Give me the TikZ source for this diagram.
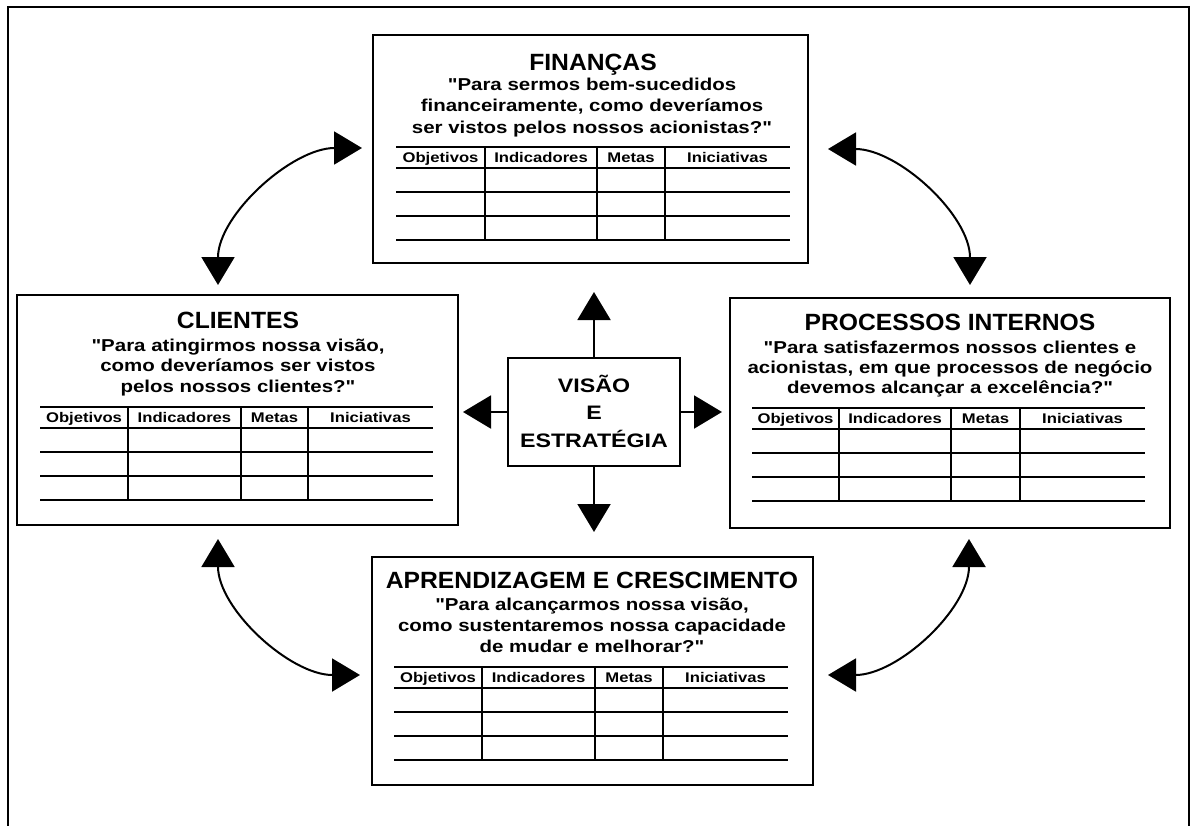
\documentclass[tikz,border=0pt]{standalone}
\usepackage{fontspec}
\setmainfont{Liberation Sans}
\newfontfamily\titlefont[FakeStretch=1.05]{Liberation Sans}
\newfontfamily\quotefont[FakeStretch=1.19]{Liberation Sans}
\usetikzlibrary{arrows.meta}
\tikzset{
  box/.style={draw, line width=1.8pt, inner sep=0pt, rectangle},
  ttl/.style={anchor=base, inner sep=0pt, font=\titlefont\bfseries\fontsize{23.5}{24}\selectfont},
  qt/.style={anchor=base, inner sep=0pt, font=\quotefont\bfseries\fontsize{17.2}{20}\selectfont},
  hd/.style={anchor=base, inner sep=0pt, font=\quotefont\bfseries\fontsize{14}{14}\selectfont},
  vt/.style={anchor=base, inner sep=0pt, font=\quotefont\bfseries\fontsize{19.5}{20}\selectfont},
  tline/.style={line width=1.4pt},
  arr/.style={line width=2pt, -{Triangle[length=28pt,width=33pt]}},
  darr/.style={line width=2pt, {Triangle[length=28pt,width=33pt]}-{Triangle[length=28pt,width=33pt]}},
  frame/.style={line width=2pt},
}
% #1 prefix, #2 left, #3 c1, #4 c2, #5 c3, #6 right, #7 top
\newcommand\tabela[7]{%
  \draw[tline] (#2,#7) -- (#6,#7);
  \draw[tline] (#2,#7+21) -- (#6,#7+21);
  \draw[tline] (#2,#7+45) -- (#6,#7+45);
  \draw[tline] (#2,#7+69) -- (#6,#7+69);
  \draw[tline] (#2,#7+93) -- (#6,#7+93);
  \draw[tline] (#3,#7) -- (#3,#7+93);
  \draw[tline] (#4,#7) -- (#4,#7+93);
  \draw[tline] (#5,#7) -- (#5,#7+93);
  \node[hd] (#1-h1) at ({(#2+#3)/2},#7+15) {Objetivos};
  \node[hd] (#1-h2) at ({(#3+#4)/2},#7+15) {Indicadores};
  \node[hd] (#1-h3) at ({(#4+#5)/2},#7+15) {Metas};
  \node[hd] (#1-h4) at ({(#5+#6)/2},#7+15) {Iniciativas};
}
\begin{document}
\begin{tikzpicture}[x=1pt,y=-1pt]
\useasboundingbox (0,0) rectangle (1194,825);
\draw[frame] (8,830) -- (8,7) -- (1189,7) -- (1189,830);

% boxes
\node[box, minimum width=435pt, minimum height=228pt] (fin) at (590.5,149) {};
\node[box, minimum width=441pt, minimum height=230pt] (cli) at (237.5,410) {};
\node[box, minimum width=440pt, minimum height=230pt] (pro) at (950,413) {};
\node[box, minimum width=441pt, minimum height=228pt] (apr) at (592.5,671) {};
\node[box, minimum width=172pt, minimum height=108pt] (vis) at (594,412) {};

% FINANCAS
\node[ttl] (fin-t) at (593,70) {FINANÇAS};
\node[qt] (fin-q1) at (592,90) {"Para sermos bem-sucedidos};
\node[qt] (fin-q2) at (592,111.5) {financeiramente, como deveríamos};
\node[qt] (fin-q3) at (592,133) {ser vistos pelos nossos acionistas?"};
\tabela{fin}{396}{485}{597}{665}{790}{147}

% CLIENTES
\node[ttl] (cli-t) at (238,328) {CLIENTES};
\node[qt] (cli-q1) at (238,351) {"Para atingirmos nossa visão,};
\node[qt] (cli-q2) at (238,371.5) {como deveríamos ser vistos};
\node[qt] (cli-q3) at (238,392) {pelos nossos clientes?"};
\tabela{cli}{40}{128}{241}{308}{433}{407}

% PROCESSOS INTERNOS
\node[ttl] (pro-t) at (950,330) {PROCESSOS INTERNOS};
\node[qt] (pro-q1) at (950,353) {"Para satisfazermos nossos clientes e};
\node[qt] (pro-q2) at (950,373) {acionistas, em que processos de negócio};
\node[qt] (pro-q3) at (950,393) {devemos alcançar a excelência?"};
\tabela{pro}{752}{839}{951}{1020}{1145}{408}

% APRENDIZAGEM
\node[ttl] (apr-t) at (592,588) {APRENDIZAGEM E CRESCIMENTO};
\node[qt] (apr-q1) at (592,610) {"Para alcançarmos nossa visão,};
\node[qt] (apr-q2) at (592,631) {como sustentaremos nossa capacidade};
\node[qt] (apr-q3) at (592,652) {de mudar e melhorar?"};
\tabela{apr}{394}{482}{595}{663}{788}{667}

% VISAO
\node[vt] (vis-1) at (594,392) {VISÃO};
\node[vt] (vis-2) at (594,419.5) {E};
\node[vt] (vis-3) at (594,447) {ESTRATÉGIA};

% center arrows
\coordinate (up) at (594,292);
\coordinate (dn) at (594,532);
\coordinate (lf) at (463,412);
\coordinate (rt) at (722,412);
\draw[arr] (vis.north) -- (up);
\draw[arr] (vis.south) -- (dn);
\draw[arr] (vis.west) -- (lf);
\draw[arr] (vis.east) -- (rt);

% curved arrows
\coordinate (tl1) at (362,148);
\coordinate (tl2) at (218,285);
\coordinate (tr1) at (828,149);
\coordinate (tr2) at (970,285);
\coordinate (bl1) at (218,539);
\coordinate (bl2) at (360,675);
\coordinate (br1) at (969,539);
\coordinate (br2) at (828,675);
\draw[darr] (tl2) .. controls (218,215) and (292,148) .. (tl1);
\draw[darr] (tr1) .. controls (898,149) and (970,215) .. (tr2);
\draw[darr] (bl1) .. controls (218,609) and (290,675) .. (bl2);
\draw[darr] (br1) .. controls (969,609) and (898,675) .. (br2);
\end{tikzpicture}
\end{document}
